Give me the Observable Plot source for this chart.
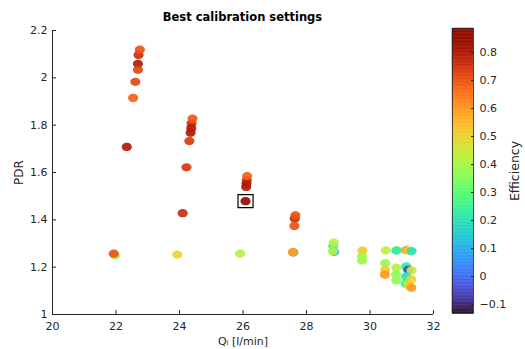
<!DOCTYPE html>
<html><head><meta charset="utf-8">
<script src="https://cdn.jsdelivr.net/npm/d3@7"></script>
<script src="https://cdn.jsdelivr.net/npm/@observablehq/plot@0.6"></script>
<style>
body{margin:0;background:#fff;}
#wrap{position:relative;width:525px;height:349px;font-family:"DejaVu Sans",sans-serif;overflow:hidden;}
#wrap svg{position:absolute;top:0;}
#title{position:absolute;left:52px;width:381px;top:10px;text-align:center;font-weight:bold;font-size:11.5px;color:#000;line-height:14px;}
.rot text{font-family:"Liberation Sans",Arial,sans-serif;}
</style></head><body><div id="wrap"><div id="title">Best calibration settings</div></div>
<script>
// Flow rate Q_i [l/min]
const flow = [
  21.97, 21.93, 23.93, 25.91,
  22.71, 22.69, 22.75, 22.69, 22.61, 22.54, 22.34,
  24.38, 24.37, 24.35, 24.41, 24.31, 24.22, 24.10,
  26.12, 26.11, 26.10, 26.13, 26.08,
  27.63, 27.65, 27.62, 27.59, 27.57,
  28.84, 28.86, 28.87, 28.83,
  29.76, 29.75, 29.75,
  30.50, 30.48, 30.48, 30.47,
  30.85, 30.83, 30.83, 30.82, 30.83,
  31.14, 31.22, 31.31, 31.14, 31.20, 31.31, 31.14, 31.12, 31.30, 31.22, 31.30
];
// Pressure drop ratio
const pdr = [
  1.249, 1.257, 1.253, 1.257,
  2.097, 2.059, 2.119, 2.034, 1.983, 1.915, 1.708,
  1.808, 1.787, 1.768, 1.828, 1.733, 1.622, 1.428,
  1.568, 1.553, 1.539, 1.585, 1.479,
  1.405, 1.419, 1.374, 1.262, 1.263,
  1.290, 1.304, 1.265, 1.267,
  1.270, 1.246, 1.228,
  1.271, 1.217, 1.189, 1.168,
  1.272, 1.270, 1.198, 1.169, 1.144,
  1.272, 1.270, 1.268, 1.203, 1.189, 1.186, 1.161, 1.130, 1.148, 1.125, 1.113
];
// Efficiency
const efficiency = [
  0.38, 0.70, 0.50, 0.42,
  0.76, 0.80, 0.70, 0.72, 0.72, 0.68, 0.80,
  0.76, 0.80, 0.80, 0.69, 0.74, 0.74, 0.76,
  0.76, 0.80, 0.80, 0.68, 0.86,
  0.76, 0.70, 0.70, 0.20, 0.60,
  0.25, 0.42, 0.10, 0.42,
  0.52, 0.40, 0.38,
  0.43, 0.38, 0.52, 0.60,
  0.38, 0.22, 0.42, 0.36, 0.38,
  0.60, 0.50, 0.20, 0.22, -0.05, 0.45, 0.20, 0.25, 0.50, 0.50, 0.60
];
const bestQ = [26.08];
const bestPdr = [1.479];
const xTicks = [20, 22, 24, 26, 28, 30, 32];
const yTicks = [1, 1.2, 1.4, 1.6, 1.8, 2, 2.2];
const cbarTicks = [-0.1, 0, 0.1, 0.2, 0.3, 0.4, 0.5, 0.6, 0.7, 0.8];
const effDomain = [-0.132, 0.886];

const fmt = d3.format("~g");
const points = flow.map((q, i) => ({q, pdr: pdr[i], eff: efficiency[i]}));
const best = bestQ.map((q, i) => ({q, pdr: bestPdr[i]}));
const font = '"DejaVu Sans", sans-serif';

// slightly wide marker shapes (figure is stretched horizontally)
const ellipse = {draw(ctx, size) {
  const r = Math.sqrt(size / Math.PI), rx = r * 1.1, ry = r * 0.9, k = 0.5523;
  ctx.moveTo(rx, 0);
  ctx.bezierCurveTo(rx, ry * k, rx * k, ry, 0, ry);
  ctx.bezierCurveTo(-rx * k, ry, -rx, ry * k, -rx, 0);
  ctx.bezierCurveTo(-rx, -ry * k, -rx * k, -ry, 0, -ry);
  ctx.bezierCurveTo(rx * k, -ry, rx, -ry * k, rx, 0);
  ctx.closePath();
}};
const box = {draw(ctx, size) {
  const r = Math.sqrt(size / Math.PI), hw = r * 0.94, hh = r * 0.81;
  ctx.moveTo(-hw, -hh); ctx.lineTo(hw, -hh); ctx.lineTo(hw, hh); ctx.lineTo(-hw, hh); ctx.closePath();
}};

const main = Plot.plot({
  width: 525, height: 349,
  marginLeft: 52, marginRight: 92, marginTop: 30, marginBottom: 35,
  style: {fontFamily: font, fontSize: "11px", color: "#262626", background: "transparent", overflow: "visible"},
  x: {domain: [20, 32]},
  y: {domain: [1, 2.2]},
  color: {type: "linear", scheme: "turbo", domain: effDomain},
  marks: [
    Plot.ruleX([20], {stroke: "#262626"}),
    Plot.ruleY([1], {stroke: "#262626"}),
    Plot.axisX({ticks: xTicks, tickFormat: fmt, tickSize: -4, tickPadding: 12, stroke: "#262626",
      label: "Qᵢ [l/min]", labelAnchor: "center", labelArrow: "none", labelOffset: 30, fontSize: 11}),
    Plot.axisY({ticks: yTicks, tickFormat: fmt, tickSize: -4, tickPadding: 9, stroke: "#262626",
      label: null, fontSize: 11}),
    Plot.axisY({ticks: [], tickSize: 0, label: "PDR", labelAnchor: "center", labelArrow: "none",
      labelOffset: 38, fontSize: 12, className: "rot"}),
    Plot.dot(points, {x: "q", y: "pdr", fill: "eff", r: 4.6, symbol: ellipse, fillOpacity: 0.92}),
    Plot.dot(best, {x: "q", y: "pdr", symbol: box, r: 8, stroke: "#000", strokeWidth: 1.2, fill: "none"})
  ]
});
document.getElementById("wrap").appendChild(main);

// Colorbar
const n = 200;
const cells = d3.range(n).map(i => {
  const a = effDomain[0] + (effDomain[1] - effDomain[0]) * i / n;
  const b = effDomain[0] + (effDomain[1] - effDomain[0]) * (i + 1) / n;
  return {a, b, v: (a + b) / 2};
});
const cbar = Plot.plot({
  width: 85, height: 349,
  marginLeft: 12, marginRight: 52, marginTop: 28, marginBottom: 36,
  style: {fontFamily: font, fontSize: "11px", color: "#262626", background: "transparent", overflow: "visible"},
  y: {domain: effDomain},
  color: {type: "linear", scheme: "turbo", domain: effDomain},
  marks: [
    Plot.rect(cells, {y1: "a", y2: "b", fill: "v", stroke: "v", strokeWidth: 0.5}),
    Plot.frame({stroke: "#262626", strokeWidth: 0.8}),
    Plot.axisY({anchor: "right", ticks: cbarTicks, tickFormat: fmt, tickSize: -3, tickPadding: 9,
      label: null, fontSize: 11}),
    Plot.axisY({anchor: "right", ticks: [], tickSize: 0, label: "Efficiency", labelAnchor: "center",
      labelArrow: "none", labelOffset: 45, fontSize: 12.5, className: "rot"})
  ]
});
cbar.style.left = "440px";
document.getElementById("wrap").appendChild(cbar);
</script>
</body></html>
